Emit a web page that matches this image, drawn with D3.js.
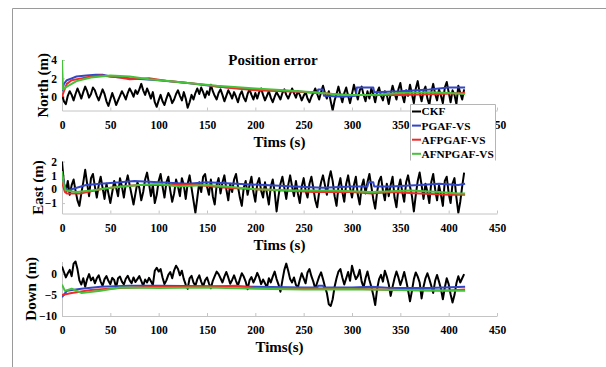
<!DOCTYPE html>
<html>
<head>
<meta charset="utf-8">
<script src="https://cdn.jsdelivr.net/npm/d3@7"></script>
<style>
  body { margin: 0; background: #fff; }
  text { font-family: "Liberation Serif", "Times New Roman", serif; font-weight: bold; }
</style>
</head>
<body>
<div id="chart"></div>
<script>
// sample step of the CKF series (s)
const ckfStep = 2;

const northCKF = [
  0.2, -0.5, -0.8, 0.1, 0.6, 0.2, -0.4, 0.3, 0.9, 0.4,
  -0.2, 0.5, 1.1, 0.6, -0.1, 0.3, 1.0, 0.7, 0.1, -0.4,
  0.2, 0.8, 0.3, -0.5, -1.0, -0.3, 0.4, -0.2, -0.9, -0.4,
  0.1, 0.6, 0.2, -0.3, 0.4, 0.9, 0.5, 0.0, 0.7, 0.3,
  0.8, 1.4, 0.7, 0.2, 0.9, 0.4, -0.2, 0.5, -0.6, -1.1,
  -0.4, 0.2, -0.5, -0.9, -0.2, 0.4, 0.0, -0.7, -0.3, 0.3,
  0.7, 0.1, -0.4, 0.5, -0.2, -1.2, -0.6, 0.2, -0.3, 0.4,
  0.9, 0.3, 1.0, 0.5, -0.1, 0.6, 0.2, 1.3, 0.6, 0.1,
  -0.3, 0.4, 0.8, 0.2, -0.5, 0.1, 0.7, 0.3, -0.2, 0.5,
  0.0, -0.6, 0.2, 0.6, -0.1, -0.5, 0.3, 0.8, 0.2, -0.3,
  0.4, -0.2, 0.5, 0.9, 0.2, -0.4, 0.1, 0.6, -0.1, -0.6,
  0.0, 0.5, 0.1, -0.3, 0.4, 0.8, 0.2, -0.2, 0.3, 0.9,
  0.4, -0.1, 0.6, 0.2, -0.4, 0.1, 0.5, -0.2, -0.6, 0.0,
  0.4, 0.9, 0.3, -0.3, 0.5, 1.2, 0.4, -0.2, 0.6, -0.5,
  -1.5, -0.4, 0.3, 1.1, 0.2, -0.6, 0.4, 1.0, 0.1, -0.7,
  0.3, 1.3, 0.5, -0.3, 0.7, 1.1, 0.2, -0.5, 0.6, -0.2,
  0.9, 0.3, -0.6, 0.5, 1.0, 0.1, -0.4, 0.6, 0.2, -0.8,
  0.3, 1.2, 0.4, -0.3, 0.8, 1.5, 0.2, -0.6, 0.7, 0.1,
  1.3, 0.3, -0.7, 0.9, 1.7, 0.4, -0.5, 0.6, 1.1, -0.2,
  -0.9, 0.5, 1.4, 0.3, -0.4, 0.8, 0.1, -0.7, 1.0, 1.6,
  0.5, -0.6, 0.7, 0.2, -0.8, 1.2, 0.4, -0.3, 0.8
];
const eastCKF = [
  2.0, 0.4, -0.2, 0.6, -0.4, 0.3, 0.7, -0.1, -0.8, -1.2,
  -0.3, 0.5, 1.4, 0.4, -0.5, 0.8, 1.1, 0.2, -0.6, 0.3,
  0.9, 0.1, -0.7, 0.4, -0.3, -1.0, -0.2, 0.6, 0.1, -0.5,
  0.8, 0.2, -0.6, 0.4, 1.0, 0.3, -0.4, -1.1, -0.3, 0.5,
  0.1, -0.8, -0.2, 0.7, 1.2, 0.4, -0.5, 0.3, -1.0, -0.4,
  0.6, 1.1, 0.2, -0.6, 0.5, 0.9, -0.1, -0.9, -0.3, 0.7,
  0.2, -0.5, 0.8, 0.3, -0.7, 0.4, 1.0, 0.1, -0.8, -1.7,
  -0.6, 0.5, -0.2, 0.9, 1.1, 0.2, -0.4, 0.7, -0.5, -1.1,
  0.3, 0.8, -0.3, 0.5, 1.0, 0.0, -0.8, 0.4, -0.2, 0.7,
  1.1, 0.2, -0.6, -1.2, 0.1, 0.6, -0.4, 0.3, 0.9, -0.2,
  -0.9, 0.4, 0.8, -0.1, -0.6, 0.5, -0.3, -1.1, 0.2, 0.7,
  -0.2, -1.6, -0.5, 0.4, 0.9, 0.1, -0.7, 0.3, 1.0, 0.2,
  -0.5, 0.6, -0.3, -1.0, 0.2, 0.8, -0.1, -0.6, 0.4, 0.9,
  0.1, -0.8, -1.3, -0.2, 0.5, 1.0, 0.3, -0.4, 0.7, 1.3,
  0.6, -0.5, -1.2, 0.2, 0.8, -0.2, -0.9, 0.4, 1.0, 0.1,
  -0.6, 0.3, 0.9, -0.4, -1.1, 0.2, 0.7, -0.3, 0.5, 1.1,
  0.2, -0.7, -1.4, -0.2, 0.6, 0.9, -0.1, -0.8, 0.4, -0.5,
  0.3, 0.9, -0.6, -1.3, 0.1, 0.7, -0.2, -0.9, 0.5, 1.0,
  0.2, -0.5, -1.6, -0.4, 0.6, 1.2, 0.3, -0.7, 0.4, -0.2,
  -1.0, 0.5, 1.1, 0.0, -0.8, 0.3, -0.4, -1.2, 0.6, 0.9,
  -0.3, -1.0, 0.4, 0.8, -0.6, -1.7, -0.9, 0.2, 1.2
];
const downCKF = [
  1.8, 0.5, -0.8, 0.2, 1.0, -0.5, 2.5, 3.0, 1.2, -1.5,
  -2.5, -1.0, -3.0, -1.2, 0.0, -1.5, -0.8, -2.2, -1.0, -0.3,
  -1.8, -2.8, -1.2, -0.5, -1.6, -2.4, -0.9, -1.4, -3.2, -1.0,
  -0.6, -1.8, -2.5, -1.1, -0.4, -1.5, -2.2, -0.8, -1.9, -1.2,
  -0.5, -1.6, -2.8, -1.3, -2.0, -0.9, -1.7, -2.6, 0.8, 1.5,
  0.6, 1.2, -0.8, -2.4, -1.5, -0.2, 0.5, -1.0, 0.9, 2.0,
  1.2, -0.3, 0.8, -1.2, -2.5, -3.5, -1.0, -0.4, -2.0, -2.8,
  -1.2, -0.3, -1.8, -3.0, -1.5, -0.8, -2.2, -3.4, -1.6, -0.5,
  0.6, 0.0, -1.0, -2.0, -0.6, 0.5, -0.8, -2.3, -1.4, -0.3,
  -1.6, -2.8, -1.2, 0.2, -0.6, -1.8, -3.6, -1.5, -0.7, -2.0,
  -1.0, 0.3, -0.8, -2.4, -1.3, -2.2, -3.2, -1.0, -2.0, -0.6,
  0.6, -1.2, -2.5, -4.2, -1.5, 1.0, 2.5, 0.8, -1.2, -2.0,
  -0.8, -2.6, -3.2, -1.4, 0.2, -1.0, -2.2, 0.4, 1.2, -0.5,
  -1.8, -3.5, -2.0, -0.6, 0.4, -1.2, -3.0, -4.5, -7.2, -7.6,
  -6.0, -3.0, -1.0, 0.6, 1.2, -0.8, -2.5, -1.0, 0.5, -1.6,
  2.0, 0.2, -1.2, -0.5, 1.0, -1.8, -3.2, -1.0, 0.6, -1.4,
  -3.0, -5.0, -7.4, -3.5, -1.2, -0.2, -1.8, 0.8, -0.6, -2.4,
  -5.2, -3.0, -1.0, 0.6, -0.8, -2.6, -1.2, 0.5, -1.5, -3.8,
  -6.5, -4.0, -1.2, 0.4, -0.6, -2.0, -5.8, -3.0, -1.0, 0.2,
  -1.2, -2.8, -4.5, -1.6, -0.2, -1.8, -3.5, -6.0, -3.2, -1.0,
  -2.4, -4.8, -6.8, -5.0, -2.2, -0.5, -2.0, -1.0, 0.0
];

// smooth filter outputs: [time, value]
const northPGAF = [[0,0.6],[2,1.4],[5,1.8],[10,2.0],[15,2.2],[25,2.3],[35,2.4],[42,2.4],[50,2.2],[70,2.0],[100,1.8],[130,1.5],[160,1.1],[200,0.8],[240,0.6],[264,0.4],[265,0.8],[270,0.8],[271,0.1],[290,0.0],[304,0.1],[305,1.0],[322,1.0],[323,0.5],[350,0.6],[380,0.8],[400,1.0],[417,1.0]];
const northAFPGAF = [[0,0.0],[2,0.6],[5,1.4],[10,1.8],[20,2.0],[30,2.2],[40,2.3],[60,2.1],[70,1.9],[90,2.0],[110,1.7],[140,1.4],[170,1.0],[200,0.7],[230,0.6],[260,0.5],[280,0.3],[300,0.2],[350,0.2],[390,0.3],[417,0.4]];
const northAFNPGAF = [[0,4.0],[1,0.8],[5,1.1],[15,1.7],[30,2.1],[50,2.3],[70,2.2],[90,1.9],[110,1.7],[130,1.5],[160,1.2],[200,0.9],[230,0.7],[260,0.5],[290,0.2],[320,0.2],[350,0.4],[380,0.5],[400,0.4],[417,0.3]];

const eastPGAF = [[0,1.0],[3,0.2],[5,-0.1],[10,0.0],[25,0.3],[40,0.4],[60,0.5],[75,0.6],[100,0.5],[130,0.4],[150,0.5],[180,0.4],[210,0.3],[240,0.2],[270,0.1],[300,0.2],[316,0.2],[317,0.5],[322,0.5],[323,0.2],[340,0.2],[370,0.3],[390,0.4],[410,0.3],[417,0.4]];
const eastAFPGAF = [[0,0.5],[3,-0.2],[5,-0.3],[20,-0.3],[40,0.0],[60,0.2],[80,0.3],[110,0.3],[140,0.3],[170,0.1],[200,0.0],[230,-0.1],[260,-0.2],[300,-0.2],[320,-0.3],[340,-0.2],[370,-0.3],[400,-0.4],[417,-0.4]];
const eastAFNPGAF = [[0,1.3],[2,0.3],[4,-0.1],[15,-0.2],[30,-0.1],[50,0.1],[80,0.3],[100,0.4],[120,0.2],[150,0.3],[170,0.2],[200,0.0],[240,-0.1],[280,-0.1],[320,-0.2],[360,-0.1],[390,-0.2],[410,-0.3],[417,-0.3]];

const downPGAF = [[0,-5.5],[5,-4.0],[20,-3.5],[40,-3.0],[70,-2.8],[100,-2.8],[150,-2.9],[200,-3.0],[250,-3.2],[264,-3.2],[265,-2.8],[270,-2.8],[271,-3.2],[300,-3.2],[320,-3.0],[340,-3.3],[380,-3.3],[417,-3.0]];
const downAFPGAF = [[0,-5.0],[10,-4.5],[30,-3.8],[60,-3.3],[100,-3.0],[150,-3.0],[180,-2.8],[200,-3.3],[250,-3.4],[300,-3.5],[350,-3.8],[400,-3.9],[417,-3.7]];
const downAFNPGAF = [[0,-2.5],[3,-4.0],[10,-3.5],[20,-4.5],[40,-4.0],[60,-3.2],[100,-3.3],[150,-3.2],[200,-3.5],[250,-3.7],[300,-3.6],[350,-3.8],[380,-3.9],[417,-4.0]];

const seriesNames = ["CKF", "PGAF-VS", "AFPGAF-VS", "AFNPGAF-VS"];
const seriesColors = ["#000000", "#3347c6", "#ee2a2a", "#45c23a"];
const xTicks = [0, 50, 100, 150, 200, 250, 300, 350, 400, 450];
const xTicksTop = [0, 50, 100, 150, 200, 250, 300, 350, 450]; // 400 sits under the legend

const panels = [
  { label: "North (m)", xTitle: "Tims (s)", domain: [-1.5, 4], yTicks: [0, 2, 4], top: 60, bottom: 110.5, labelX: 43,
    ticks: xTicksTop, lines: [northCKF, northPGAF, northAFPGAF, northAFNPGAF] },
  { label: "East (m)", xTitle: "Tims (s)", domain: [-1.75, 2], yTicks: [-1, 0, 1, 2], top: 161.5, bottom: 213.5, labelX: 38,
    ticks: xTicks, lines: [eastCKF, eastPGAF, eastAFPGAF, eastAFNPGAF] },
  { label: "Down (m)", xTitle: "Tims(s)", domain: [-10, 3], yTicks: [-10, -5, 0], top: 261.5, bottom: 316, labelX: 31,
    ticks: xTicks, lines: [downCKF, downPGAF, downAFPGAF, downAFNPGAF] }
];

const width = 606, height = 367;
const svg = d3.select("#chart").append("svg")
  .attr("width", width)
  .attr("height", height);

// outer figure frame
svg.append("path")
  .attr("d", `M12.5,${height} V8.5 H${width}`)
  .attr("fill", "none")
  .attr("stroke", "#9a9a9a")
  .attr("stroke-width", 1);

const x = d3.scaleLinear().domain([0, 450]).range([62, 497]);
const axisColor = "#c4c4c4";

panels.forEach((p, i) => {
  const y = d3.scaleLinear().domain(p.domain).range([p.bottom, p.top]);
  const g = svg.append("g");

  // x axis
  const xa = g.append("g")
    .attr("transform", `translate(0,${p.bottom})`)
    .call(d3.axisBottom(x).tickValues(p.ticks).tickSize(-3).tickSizeOuter(0).tickPadding(6));
  xa.select(".domain").attr("stroke", axisColor);
  xa.selectAll(".tick line").attr("stroke", axisColor);
  xa.selectAll(".tick text").attr("fill", "#000").style("font-size", "11.5px")
    .attr("font-family", null).attr("dy", "1.05em");

  // y axis
  const ya = g.append("g")
    .attr("transform", `translate(${x(0)},0)`)
    .call(d3.axisLeft(y).tickValues(p.yTicks).tickFormat(d3.format("d"))
      .tickSize(-3).tickSizeOuter(0).tickPadding(5));
  ya.select(".domain").attr("stroke", axisColor);
  ya.selectAll(".tick line").attr("stroke", axisColor);
  ya.selectAll(".tick text").attr("fill", "#000").style("font-size", "11.5px").attr("font-family", null);

  // lines
  const line = d3.line()
    .x(d => x(d[0]))
    .y(d => y(d[1]));
  const clipId = "clip" + i;
  svg.append("clipPath").attr("id", clipId).append("rect")
    .attr("x", x(0)).attr("y", p.top - 2).attr("width", x(450) - x(0)).attr("height", p.bottom - p.top + 2);
  const lg = g.append("g").attr("clip-path", `url(#${clipId})`);
  p.lines.forEach((s, k) => {
    const pts = k === 0 ? s.map((v, j) => [j * ckfStep, v]) : s;
    lg.append("path")
      .datum(pts)
      .attr("fill", "none")
      .attr("stroke", seriesColors[k])
      .attr("stroke-width", 2)
      .attr("stroke-linejoin", "round")
      .attr("d", line);
  });

  // labels
  g.append("text")
    .attr("transform", `translate(${p.labelX},${(p.top + p.bottom) / 2}) rotate(-90)`)
    .attr("text-anchor", "middle")
    .attr("dy", "0.35em")
    .style("font-size", "15px")
    .text(p.label);
  g.append("text")
    .attr("x", (x(0) + x(450)) / 2)
    .attr("y", p.bottom + 36)
    .attr("text-anchor", "middle")
    .style("font-size", "15px")
    .text(p.xTitle);

  if (i === 0) {
    g.append("text")
      .attr("x", 273)
      .attr("y", 65)
      .attr("text-anchor", "middle")
      .style("font-size", "15px")
      .text("Position error");

    // legend (bottom edge hidden under the East axes, as in the figure)
    const leg = svg.append("g");
    leg.append("rect")
      .attr("x", 410.5).attr("y", 104.5).attr("width", 85).attr("height", 56)
      .attr("fill", "#fff").attr("stroke", "none");
    leg.append("path")
      .attr("d", "M410.5,160.5 V104.5 H495.5 V160.5")
      .attr("fill", "none").attr("stroke", "#b5b5b5");
    seriesNames.forEach((name, k) => {
      const ly = 111.5 + k * 14.1;
      leg.append("line")
        .attr("x1", 412).attr("x2", 421).attr("y1", ly).attr("y2", ly)
        .attr("stroke", seriesColors[k]).attr("stroke-width", 2);
      leg.append("text")
        .attr("x", 421.5).attr("y", ly).attr("dy", "0.35em")
        .style("font-size", "11.3px")
        .text(name);
    });
  }
});
</script>
</body>
</html>
